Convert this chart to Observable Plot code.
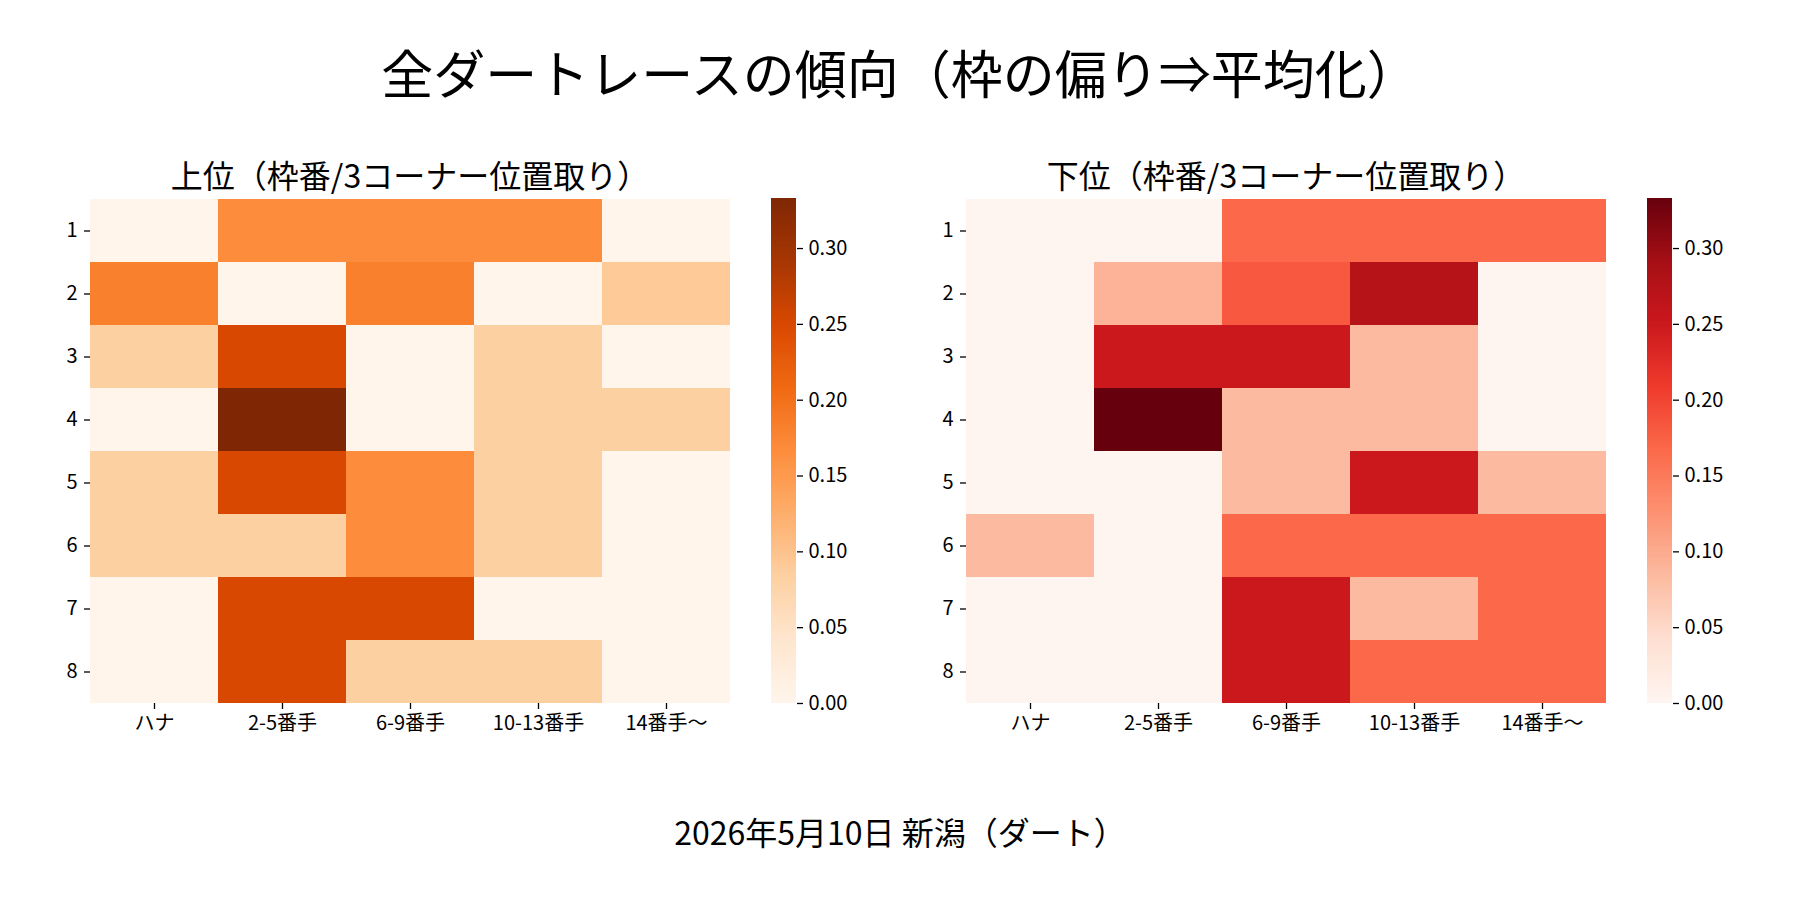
<!DOCTYPE html>
<html><head><meta charset="utf-8">
<script src="https://cdn.jsdelivr.net/npm/d3@7"></script>
<script src="https://cdn.jsdelivr.net/npm/@observablehq/plot@0.6"></script>
<style>
body{margin:0;background:#fff;font-family:"Noto Sans CJK JP",sans-serif;}
#page{position:relative;width:1800px;height:900px;overflow:hidden;background:#fff;}
.t{position:absolute;transform:translate(-50%,-50%);white-space:nowrap;color:#000;line-height:1;}
.abs{position:absolute;}
</style></head><body><div id="page"></div>
<script>
// ---- data ----
const rowLabels = [1, 2, 3, 4, 5, 6, 7, 8];
const colLabels = ["ハナ", "2-5番手", "6-9番手", "10-13番手", "14番手〜"];
const upperValues = [
  [0, 0.167, 0.167, 0.167, 0],
  [0.182, 0, 0.182, 0, 0.091],
  [0.083, 0.25, 0, 0.083, 0],
  [0, 0.333, 0, 0.083, 0.083],
  [0.083, 0.25, 0.167, 0.083, 0],
  [0.083, 0.083, 0.167, 0.083, 0],
  [0, 0.25, 0.25, 0, 0],
  [0, 0.25, 0.083, 0.083, 0]
];
const lowerValues = [
  [0, 0, 0.167, 0.167, 0.167],
  [0, 0.091, 0.182, 0.273, 0],
  [0, 0.25, 0.25, 0.083, 0],
  [0, 0.333, 0.083, 0.083, 0],
  [0, 0, 0.083, 0.25, 0.083],
  [0.083, 0, 0.167, 0.167, 0.167],
  [0, 0, 0.25, 0.083, 0.167],
  [0, 0, 0.25, 0.167, 0.167]
];
const colorbarTicks = [0, 0.05, 0.10, 0.15, 0.20, 0.25, 0.30];
const mainTitle = "全ダートレースの傾向（枠の偏り⇒平均化）";
const upperTitle = "上位（枠番/3コーナー位置取り）";
const lowerTitle = "下位（枠番/3コーナー位置取り）";
const caption = "2026年5月10日 新潟（ダート）";

// ---- styles ----
const ORANGES = ["#fff5eb","#fee6ce","#fdd0a2","#fdae6b","#fd8d3c","#f16913","#d94801","#a63603","#7f2704"];
const REDS = ["#fff5f0","#fee0d2","#fcbba1","#fc9272","#fb6a4a","#ef3b2c","#cb181d","#a50f15","#67000d"];
const FONT = '"Noto Sans CJK JP", "Noto Sans", sans-serif';
const page = document.getElementById("page");

const vmax = d3.max([...upperValues.flat(), ...lowerValues.flat()]);

function colorScale(range) {
  return {type: "linear", domain: range.map((_, i) => i / (range.length - 1) * vmax), range, interpolate: "rgb", clamp: true};
}

function place(el, left, top) {
  el.classList.add("abs");
  el.style.left = left + "px";
  el.style.top = top + "px";
  page.appendChild(el);
}
function text(str, x, y, size) {
  const d = document.createElement("div");
  d.className = "t";
  d.textContent = str;
  d.style.left = x + "px";
  d.style.top = y + "px";
  d.style.fontSize = size + "px";
  d.style.fontFamily = FONT;
  page.appendChild(d);
}

const TOP = 150, MT = 48, PH = 505, MB = 80;

function heatmap(values, range, left, ml) {
  const data = [];
  rowLabels.forEach((r, i) => colLabels.forEach((c, j) => data.push({row: r, col: c, value: values[i][j]})));
  const p = Plot.plot({
    width: ml + 640 + 10, height: MT + PH + MB,
    marginLeft: ml, marginRight: 10, marginTop: MT, marginBottom: MB,
    style: {fontFamily: FONT, fontSize: "20px", color: "#000", background: "transparent", overflow: "visible"},
    x: {domain: colLabels, padding: 0, label: null},
    y: {domain: rowLabels, padding: 0, label: null},
    color: colorScale(range),
    marks: [
      Plot.cell(data, {x: "col", y: "row", fill: "value", inset: 0, shapeRendering: "crispEdges"}),
      Plot.axisX({anchor: "bottom", tickSize: 6, tickPadding: 6, fontSize: 20, label: null, strokeWidth: 1.3}),
      Plot.axisY({anchor: "left", tickSize: 6, tickPadding: 7, fontSize: 20, label: null, strokeWidth: 1.3})
    ]
  });
  place(p, left, TOP);
}

function colorbar(range, left) {
  const N = 400;
  const bins = d3.range(N).map(i => ({y1: i / N * vmax, y2: (i + 1) / N * vmax, v: (i + 0.5) / N * vmax}));
  const p = Plot.plot({
    width: 25 + 80, height: MT + PH + MB,
    marginLeft: 0, marginRight: 80, marginTop: MT, marginBottom: MB,
    style: {fontFamily: FONT, fontSize: "20px", color: "#000", background: "transparent", overflow: "visible"},
    y: {domain: [0, vmax], label: null},
    color: colorScale(range),
    marks: [
      Plot.rect(bins, {y1: "y1", y2: "y2", fill: "v", inset: 0, shapeRendering: "crispEdges"}),
      Plot.axisY({anchor: "right", ticks: colorbarTicks, tickFormat: d3.format(".2f"), tickSize: 6, tickPadding: 6, fontSize: 20, label: null, strokeWidth: 1.3})
    ]
  });
  place(p, left, TOP);
}

heatmap(upperValues, ORANGES, 0, 90);
colorbar(ORANGES, 771);
heatmap(lowerValues, REDS, 877, 89);
colorbar(REDS, 1647);

text(mainTitle, 900, 72, 52);
text(upperTitle, 410, 174, 32);
text(lowerTitle, 1286, 174, 32);
text(caption, 900, 831, 32);
</script>
</body></html>
